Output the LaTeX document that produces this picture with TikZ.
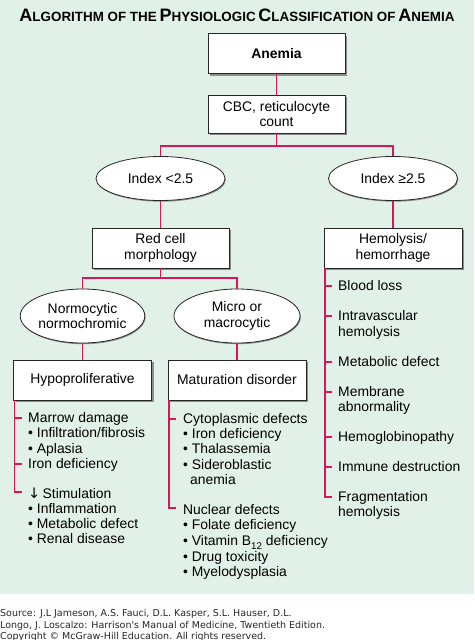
\documentclass[tikz,border=0pt]{standalone}
\usepackage{fontspec}
\setmainfont{Liberation Sans}
\newfontfamily\footfont{DejaVu Sans}
\usetikzlibrary{shapes.geometric,shadows}
\definecolor{bg}{HTML}{E2F1E7}
\definecolor{lnk}{HTML}{D6175C}
\definecolor{shd}{HTML}{8A8F8C}
\newcommand{\TitBig}[1]{{\fontsize{18}{18}\selectfont #1}}
\newcommand{\TitSmall}[1]{{\fontsize{13.4}{18}\selectfont #1}}
\begin{document}
\begin{tikzpicture}[x=1pt,y=-1pt,
  font=\fontsize{13.9}{15.3}\selectfont,
  box/.style={draw=black!85, line width=0.8pt, fill=white, minimum width=137pt, minimum height=40pt, align=center, inner sep=2pt,
    drop shadow={shadow xshift=2.2pt, shadow yshift=-2.2pt, fill=shd, opacity=1}},
  oval/.style={ellipse, draw=black!85, line width=0.8pt, fill=white, align=center, inner sep=0pt,
    drop shadow={shadow xshift=0.8pt, shadow yshift=-1.2pt, fill=shd, opacity=1}},
  link/.style={draw=lnk, line width=1.5pt},
  item/.style={anchor=west, inner sep=0pt, text height=9.8pt, text depth=0pt},
  foot/.style={anchor=base west, inner sep=0pt, font=\footfont\fontsize{9.5}{10}\selectfont, text=black!85},
]
\useasboundingbox (0,0) rectangle (474,640);
\fill[bg] (0,0) rectangle (474,594);

% title
\node[font=\bfseries, inner sep=0pt] (title) at (237,15)
  {\TitBig{A}\TitSmall{LGORITHM OF THE} \TitBig{P}\TitSmall{HYSIOLOGIC} \TitBig{C}\TitSmall{LASSIFICATION OF} \TitBig{A}\TitSmall{NEMIA}};

% main nodes
\node[box, font=\bfseries\fontsize{13.9}{15.3}\selectfont] (anemia) at (276.5,53.5) {Anemia};
\node[box, minimum height=38pt] (cbc) at (276.5,114) {CBC, reticulocyte\\count};
\node[oval, minimum width=129pt, minimum height=44pt] (lo) at (160.5,178.5) {Index <2.5};
\node[oval, minimum width=129pt, minimum height=44pt] (hi) at (393,178.5) {Index ≥2.5};
\node[box] (red) at (160.5,248) {Red cell\\morphology};
\node[box, minimum width=138pt] (hem) at (393,248) {Hemolysis/\\hemorrhage};
\node[oval, minimum width=124pt, minimum height=54pt] (normo) at (82.5,316) {Normocytic\\normochromic};
\node[oval, minimum width=126pt, minimum height=54pt] (micro) at (237,316) {Micro or\\macrocytic};
\node[box, minimum width=138pt] (hypo) at (82.5,380) {Hypoproliferative};
\node[box, minimum width=138pt] (mat) at (237,380) {Maturation disorder};

% connectors
\coordinate (j1) at (cbc.south |- 0,146);
\coordinate (j2) at (red.south |- 0,278);
\draw[link] (anemia) -- (cbc);
\draw[link] (cbc) -- (j1);
\draw[link] (lo.north) |- (j1) -| (hi.north);
\draw[link] (lo) -- (red);
\draw[link] (hi) -- (hem);
\draw[link] (red) -- (j2);
\draw[link] (normo.north) |- (j2) -| (micro.north);
\draw[link] (normo) -- (hypo);
\draw[link] (micro) -- (mat);

% left list
\node[item] (l1) at (28,418) {Marrow damage};
\node[item] (l2) at (28,433) {• Infiltration/fibrosis};
\node[item] (l3) at (28,449) {• Aplasia};
\node[item] (l4) at (28,464) {Iron deficiency};
\node[item] (l5) at (28,494) {{\footfont\fontsize{14.5}{15}\selectfont ↓}\,Stimulation};
\node[item] (l6) at (28,509) {• Inflammation};
\node[item] (l7) at (28,524) {• Metabolic defect};
\node[item] (l8) at (28,539) {• Renal disease};
\coordinate (hl) at ([xshift=1.5pt]hypo.south west);
\draw[link] (hl) |- ([xshift=-6pt,yshift=2pt]l5.west);
\draw[link] (l1.west -| hl) -- ([xshift=-6pt]l1.west);
\draw[link] (l4.west -| hl) -- ([xshift=-6pt]l4.west);

% middle list
\node[item] (m1) at (183,419) {Cytoplasmic defects};
\node[item] (m2) at (183,434) {• Iron deficiency};
\node[item] (m3) at (183,449) {• Thalassemia};
\node[item] (m4) at (183,465) {• Sideroblastic};
\node[item] (m5) at (190,480) {anemia};
\node[item] (m6) at (183,510) {Nuclear defects};
\node[item] (m7) at (183,525) {• Folate deficiency};
\node[item] (m8) at (183,541) {• Vitamin B\raisebox{-3.5pt}{\fontsize{9.8}{10}\selectfont 12} deficiency};
\node[item] (m9) at (183,557) {• Drug toxicity};
\node[item] (m10) at (183,572) {• Myelodysplasia};
\coordinate (ml) at ([xshift=1.5pt]mat.south west);
\draw[link] (ml) |- ([xshift=-7pt,yshift=2pt]m6.west);
\draw[link] (m1.west -| ml) -- ([xshift=-7pt]m1.west);

% right list
\node[item] (r1) at (338,286) {Blood loss};
\node[item] (r2) at (338,316) {Intravascular};
\node[item] (r3) at (338,332) {hemolysis};
\node[item] (r4) at (338,362) {Metabolic defect};
\node[item] (r5) at (338,392) {Membrane};
\node[item] (r6) at (338,407) {abnormality};
\node[item] (r7) at (338,437) {Hemoglobinopathy};
\node[item] (r8) at (338,467) {Immune destruction};
\node[item] (r9) at (338,497) {Fragmentation};
\node[item] (r10) at (338,512) {hemolysis};
\coordinate (rl) at ([xshift=1.5pt]hem.south west);
\draw[link] (rl) |- ([xshift=-6pt]r9.west);
\foreach \n in {r1,r2,r4,r5,r7,r8}
  \draw[link] (\n.west -| rl) -- ([xshift=-6pt]\n.west);

% footer
\node[foot] (f1) at (0,616) {Source: J.L Jameson, A.S. Fauci, D.L. Kasper, S.L. Hauser, D.L.};
\node[foot] (f2) at (0,628) {Longo, J. Loscalzo: Harrison's Manual of Medicine, Twentieth Edition.};
\node[foot] (f3) at (0,639) {Copyright © McGraw-Hill Education. All rights reserved.};
\end{tikzpicture}
\end{document}
